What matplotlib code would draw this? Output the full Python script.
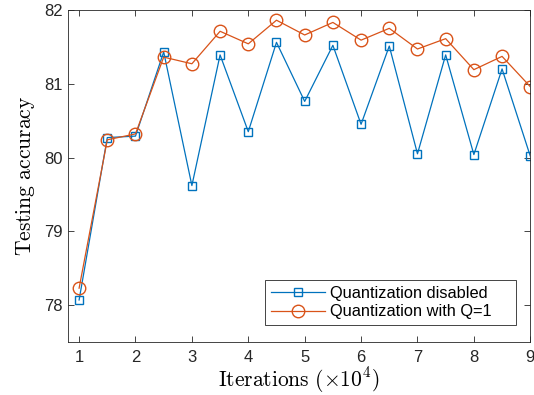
import matplotlib
matplotlib.use("Agg")
import matplotlib.pyplot as plt

# iterations (x10^4)
iterations = [1, 1.5, 2, 2.5, 3, 3.5, 4, 4.5, 5, 5.5, 6, 6.5, 7, 7.5, 8, 8.5, 9]
acc_disabled = [78.07, 80.27, 80.29, 81.43, 79.62, 81.39, 80.35, 81.56, 80.76,
                81.52, 80.45, 81.51, 80.05, 81.39, 80.04, 81.20, 80.02]
acc_q1 = [78.23, 80.24, 80.32, 81.36, 81.27, 81.71, 81.54, 81.86, 81.66,
          81.83, 81.59, 81.75, 81.47, 81.61, 81.19, 81.37, 80.96]
labels = ["Quantization disabled", "Quantization with Q=1"]

plt.rcParams["font.family"] = ["Liberation Sans", "DejaVu Sans"]
plt.rcParams["mathtext.fontset"] = "cm"

fig = plt.figure(figsize=(5.34, 3.95), dpi=100)
ax = fig.add_axes([0.127, 0.134, 0.866, 0.841])

ax.plot(iterations, acc_disabled, color="#0072BD", lw=0.9, marker="s",
        ms=6, mfc="none", mew=1.0, label=labels[0])
ax.plot(iterations, acc_q1, color="#D95319", lw=0.9, marker="o",
        ms=9, mfc="none", mew=1.0, label=labels[1])

ax.set_xlim(0.8, 9)
ax.set_ylim(77.5, 82)
ax.set_xticks(range(1, 10))
ax.set_yticks([78, 79, 80, 81, 82])
ax.tick_params(direction="in", top=True, right=True, labelsize=12,
               colors="#262626", length=4, width=0.6)
ax.tick_params(axis="x", pad=6)
for s in ax.spines.values():
    s.set_linewidth(0.6)
    s.set_color("#262626")

ax.set_xlabel(r"$\mathrm{Iterations}\ (\times 10^4)$", fontsize=15.5, labelpad=0)
ax.set_ylabel(r"$\mathrm{Testing\ accuracy}$", fontsize=15.5, labelpad=5)

leg = ax.legend(loc="lower left", fontsize=11.8, fancybox=False, framealpha=1,
                edgecolor="#262626", handlelength=3.3, handletextpad=0.3,
                borderpad=0.35, labelspacing=0.2, borderaxespad=0,
                mode="expand", bbox_to_anchor=(0.426, 0.051, 0.544, 0.13))
leg.get_frame().set_linewidth(0.6)

fig.savefig("out.png", dpi=100)
